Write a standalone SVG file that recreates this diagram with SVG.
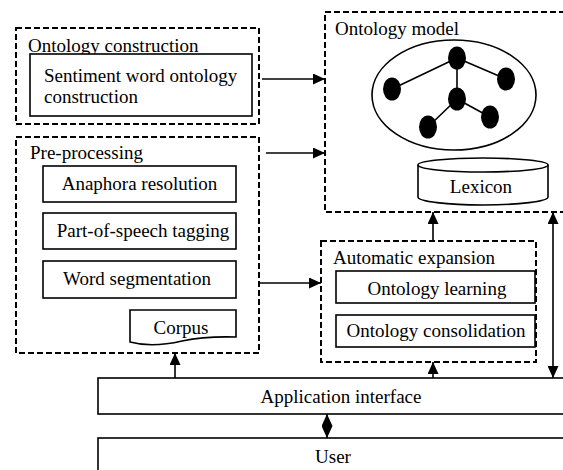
<svg xmlns="http://www.w3.org/2000/svg" width="563" height="470" viewBox="0 0 563 470">
  <style>
    text { font-family: "Liberation Serif", "Times New Roman", serif; font-size: 19px; fill: #000; }
    .mid { text-anchor: middle; }
    .group { fill: none; stroke: #000; stroke-width: 2; stroke-dasharray: 6 3; }
    .box { fill: #fff; stroke: #000; stroke-width: 1.6; }
    .conn { fill: none; stroke: #000; stroke-width: 1.6; }
    .edge { stroke: #000; stroke-width: 1.6; }
    .dot { fill: #000; }
  </style>
  <defs>
    <marker id="arrow" viewBox="0 0 12 11" refX="12" refY="5.5" markerWidth="12" markerHeight="11" markerUnits="userSpaceOnUse" orient="auto-start-reverse">
      <path d="M0,0 L12,5.5 L0,11 Z" fill="#000"/>
    </marker>
  </defs>
  <rect width="563" height="470" fill="#fff"/>

  <!-- Ontology construction -->
  <g id="ontology-construction">
    <rect class="group" x="16" y="28" width="243" height="96"/>
    <text x="28" y="52">Ontology construction</text>
    <rect class="box" x="30" y="54" width="222" height="62"/>
    <text x="44" y="82">Sentiment word ontology</text>
    <text x="44" y="103">construction</text>
  </g>

  <!-- Pre-processing -->
  <g id="pre-processing">
    <rect class="group" x="16" y="137" width="243" height="216"/>
    <text x="30" y="159">Pre-processing</text>
    <rect class="box" x="43" y="166" width="193" height="36"/>
    <text class="mid" x="139.5" y="190">Anaphora resolution</text>
    <rect class="box" x="43" y="213" width="193" height="36"/>
    <text class="mid" x="143" y="237">Part-of-speech tagging</text>
    <rect class="box" x="43" y="261" width="193" height="37"/>
    <text class="mid" x="137" y="285">Word segmentation</text>
  </g>

  <!-- Corpus document -->
  <g id="corpus">
    <path class="box" d="M130,310 H236 V337 Q206,336 182,341 Q152,348 130,342 Z"/>
    <text class="mid" x="181" y="334">Corpus</text>
  </g>

  <!-- Ontology model -->
  <g id="ontology-model">
    <rect class="group" x="325" y="12" width="250" height="200"/>
    <text x="335" y="35">Ontology model</text>
    <ellipse class="conn" cx="454" cy="95" rx="82" ry="55"/>
    <line class="edge" x1="457" y1="58" x2="392" y2="89"/>
    <line class="edge" x1="457" y1="58" x2="506" y2="79"/>
    <line class="edge" x1="457" y1="58" x2="457" y2="99"/>
    <line class="edge" x1="457" y1="99" x2="428" y2="127"/>
    <line class="edge" x1="457" y1="99" x2="490" y2="117"/>
    <ellipse class="dot" cx="457" cy="58" rx="9" ry="11.5"/>
    <ellipse class="dot" cx="392" cy="89" rx="9" ry="11.5"/>
    <ellipse class="dot" cx="506" cy="79" rx="9" ry="11.5"/>
    <ellipse class="dot" cx="457" cy="99" rx="9" ry="11.5"/>
    <ellipse class="dot" cx="428" cy="127" rx="9" ry="11.5"/>
    <ellipse class="dot" cx="490" cy="117" rx="9" ry="11.5"/>
  </g>

  <!-- Lexicon cylinder -->
  <g id="lexicon">
    <path class="box" d="M418,165 V197 A65,8 0 0 0 548,197 V165"/>
    <ellipse class="box" cx="483" cy="165" rx="65" ry="7"/>
    <text class="mid" x="481" y="193">Lexicon</text>
  </g>

  <!-- Automatic expansion -->
  <g id="automatic-expansion">
    <rect class="group" x="321" y="241" width="215" height="121"/>
    <text x="333" y="264">Automatic expansion</text>
    <rect class="box" x="336" y="271" width="199" height="32"/>
    <text class="mid" x="437" y="295">Ontology learning</text>
    <rect class="box" x="336" y="315" width="199" height="32"/>
    <text class="mid" x="436" y="337">Ontology consolidation</text>
  </g>

  <!-- Application interface -->
  <g id="application-interface">
    <rect class="box" x="98" y="378" width="480" height="36"/>
    <text class="mid" x="341" y="403">Application interface</text>
  </g>

  <!-- User -->
  <g id="user">
    <rect class="box" x="98" y="438" width="480" height="50"/>
    <text class="mid" x="333" y="463">User</text>
  </g>

  <!-- Connectors -->
  <g id="connectors">
    <line class="conn" x1="262" y1="79" x2="325" y2="79" marker-end="url(#arrow)"/>
    <line class="conn" x1="266" y1="153" x2="325" y2="153" marker-end="url(#arrow)"/>
    <line class="conn" x1="260" y1="283" x2="321" y2="283" marker-end="url(#arrow)"/>
    <line class="conn" x1="433" y1="241" x2="433" y2="212" marker-end="url(#arrow)"/>
    <line class="conn" x1="553" y1="212" x2="553" y2="378" marker-start="url(#arrow)" marker-end="url(#arrow)"/>
    <line class="conn" x1="175" y1="378" x2="175" y2="353" marker-end="url(#arrow)"/>
    <line class="conn" x1="433" y1="378" x2="433" y2="362" marker-end="url(#arrow)"/>
    <line class="conn" x1="327" y1="414" x2="327" y2="438" marker-start="url(#arrow)" marker-end="url(#arrow)"/>
  </g>
</svg>
